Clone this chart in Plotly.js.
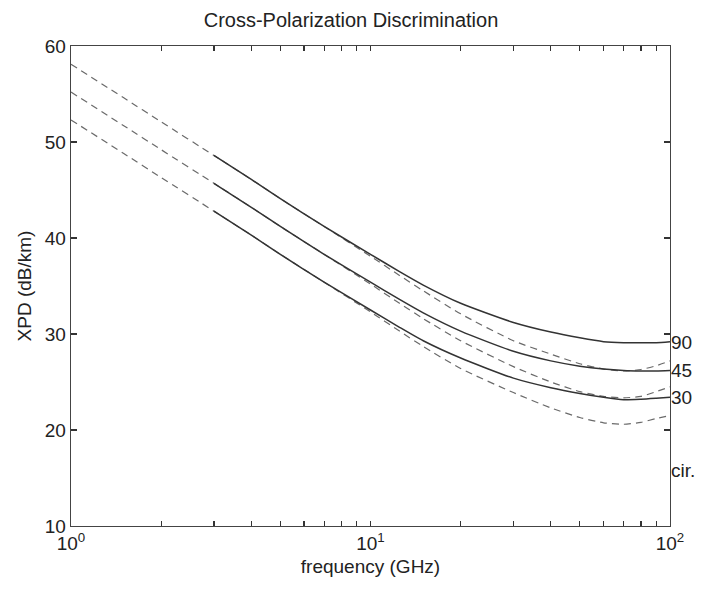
<!DOCTYPE html>
<html>
<head>
<meta charset="utf-8">
<script src="https://cdn.plot.ly/plotly-3.0.1.min.js"></script>
<style>html,body{margin:0;padding:0;background:#fff;}#chart{width:702px;height:591px;}</style>
</head>
<body>
<div id="chart"></div>
<script>
// frequency grid (GHz)
var freq = [1, 1.5, 2, 3, 4, 5, 7, 10, 12.5, 15, 20, 30, 40, 50, 60, 70, 80, 90, 100];
// solid curves (tilt angles 90, 45, 30 deg)
var xpd90 = [58.1, 54.6, 52.1, 48.6, 46.1, 44.1, 41.2, 38.3, 36.5, 35.1, 33.2, 31.2, 30.2, 29.6, 29.2, 29.1, 29.1, 29.1, 29.2];
var xpd45 = [55.2, 51.7, 49.2, 45.7, 43.2, 41.2, 38.3, 35.4, 33.6, 32.2, 30.3, 28.2, 27.2, 26.65, 26.35, 26.2, 26.15, 26.15, 26.2];
var xpd30 = [52.3, 48.8, 46.3, 42.8, 40.3, 38.3, 35.4, 32.5, 30.7, 29.3, 27.5, 25.4, 24.4, 23.8, 23.4, 23.15, 23.2, 23.3, 23.4];
// dashed curves
var dash1 = [58.1, 54.6, 52.1, 48.6, 46.1, 44.1, 41.2, 38.1, 36.1, 34.5, 32.1, 29.3, 27.9, 26.9, 26.35, 26.15, 26.3, 26.7, 27.2];
var dash2 = [55.2, 51.7, 49.2, 45.7, 43.2, 41.2, 38.3, 35.2, 33.2, 31.6, 29.3, 26.6, 25.0, 24.0, 23.5, 23.35, 23.5, 24.0, 24.5];
var dash3 = [52.3, 48.8, 46.3, 42.8, 40.3, 38.3, 35.4, 32.3, 30.3, 28.7, 26.4, 23.9, 22.3, 21.3, 20.75, 20.6, 20.8, 21.2, 21.5];
// curve labels at right edge
var labelText = ['90', '45', '30', 'cir.'];
var labelY = [29.1, 26.2, 23.4, 15.8];
// axis ticks (decades labelled, intermediate ticks unlabelled)
var xTickVals = [1, 2, 3, 4, 5, 6, 7, 8, 9, 10, 20, 30, 40, 50, 60, 70, 80, 90, 100];
var xTickText = ['10<sup>0</sup>', ' ', ' ', ' ', ' ', ' ', ' ', ' ', ' ', '10<sup>1</sup>', ' ', ' ', ' ', ' ', ' ', ' ', ' ', ' ', '10<sup>2</sup>'];
var yTickVals = [10, 20, 30, 40, 50, 60];

var solidStart = 3; // index where solid curves begin (f = 3 GHz)
function tail(a){ return a.slice(solidStart); }

var dashStyle = {color: '#6a6a6a', width: 1.2, dash: '7px,5px', shape: 'spline', smoothing: 0.6};
var solidStyle = {color: '#333333', width: 1.5, shape: 'spline', smoothing: 0.6};

var traces = [
  {x: freq, y: dash1, mode: 'lines', line: dashStyle, hoverinfo: 'skip'},
  {x: freq, y: dash2, mode: 'lines', line: dashStyle, hoverinfo: 'skip'},
  {x: freq, y: dash3, mode: 'lines', line: dashStyle, hoverinfo: 'skip'},
  {x: tail(freq), y: tail(xpd90), mode: 'lines', line: solidStyle, hoverinfo: 'skip'},
  {x: tail(freq), y: tail(xpd45), mode: 'lines', line: solidStyle, hoverinfo: 'skip'},
  {x: tail(freq), y: tail(xpd30), mode: 'lines', line: solidStyle, hoverinfo: 'skip'}
];

var annotations = labelText.map(function(t, i){
  return {x: 1, xref: 'paper', y: labelY[i], yref: 'y', text: t, showarrow: false,
          xanchor: 'left', yanchor: 'middle', xshift: -1,
          font: {family: 'Liberation Sans, Arial, sans-serif', size: 19, color: '#222'}};
});

var font = {family: 'Liberation Sans, Arial, sans-serif', color: '#222'};

var layout = {
  width: 702, height: 591,
  margin: {l: 71, r: 32, t: 46, b: 65},
  paper_bgcolor: '#ffffff', plot_bgcolor: '#ffffff',
  showlegend: false,
  font: font,
  title: {text: 'Cross-Polarization Discrimination', font: {family: font.family, size: 20, color: '#222'},
          x: 0.5, xanchor: 'center', y: 1 - 20/591, yref: 'container', yanchor: 'middle'},
  xaxis: {
    type: 'log', range: [0, 2],
    tickmode: 'array', tickvals: xTickVals, ticktext: xTickText, tickangle: 0,
    ticks: 'inside', ticklen: 5, tickcolor: '#333', tickwidth: 1.2,
    showgrid: false, zeroline: false,
    showline: true, linecolor: '#444', linewidth: 1.3, mirror: 'ticks',
    tickfont: {family: font.family, size: 19, color: '#222'},
    title: {text: 'frequency (GHz)', font: {family: font.family, size: 19, color: '#222'}, standoff: 6}
  },
  yaxis: {
    range: [10, 60],
    tickmode: 'array', tickvals: yTickVals,
    ticks: 'inside', ticklen: 6, tickcolor: '#333', tickwidth: 1.2,
    showgrid: false, zeroline: false,
    showline: true, linecolor: '#444', linewidth: 1.3, mirror: 'ticks',
    tickfont: {family: font.family, size: 19, color: '#222'},
    title: {text: 'XPD (dB/km)', font: {family: font.family, size: 19, color: '#222'}, standoff: 8}
  },
  annotations: annotations
};

Plotly.newPlot('chart', traces, layout, {displayModeBar: false, staticPlot: true});
</script>
</body>
</html>
